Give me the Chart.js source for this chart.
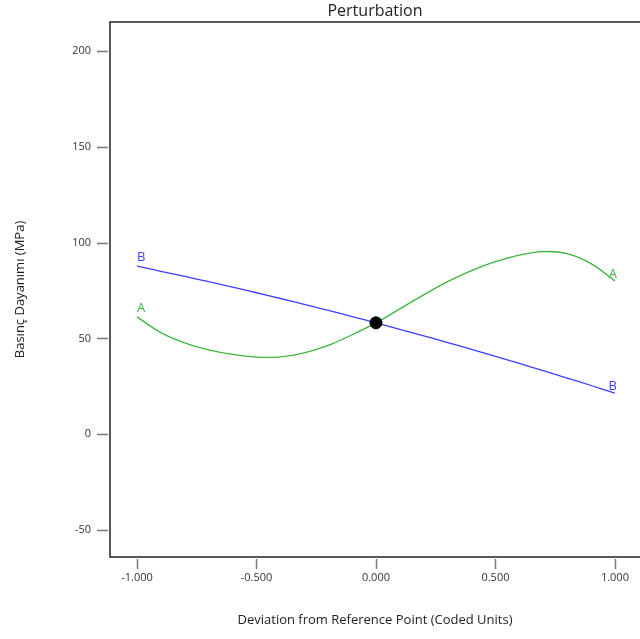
<!DOCTYPE html>
<html>
<head>
<meta charset="utf-8">
<script src="https://cdn.jsdelivr.net/npm/chart.js@4"></script>
<style>
  html, body { margin: 0; padding: 0; background: #fff; overflow: hidden; }
</style>
</head>
<body>
<canvas id="grafico" width="640" height="639"></canvas>
<script>
// valores
const desvios = [-1.0, -0.9, -0.8, -0.7, -0.6, -0.5, -0.4, -0.3, -0.2, -0.1, 0.0,
                 0.1, 0.2, 0.3, 0.4, 0.5, 0.6, 0.7, 0.8, 0.9, 1.0]
const serieA = [61.2, 53.0, 47.6, 44.0, 41.6, 40.2, 40.3, 42.4, 46.3, 51.9, 58.1,
                65.4, 72.7, 79.6, 85.4, 90.0, 93.4, 95.3, 94.2, 89.0, 80.0]
const serieB = [87.7, 85.0, 82.3, 79.6, 76.7, 73.8, 70.8, 67.7, 64.6, 61.4, 58.1,
                54.7, 51.3, 47.8, 44.3, 40.6, 36.9, 33.1, 29.3, 25.4, 21.4]
const pontoRef = [{x: 0.0, y: 58.1}]
const ticksX = [-1.0, -0.5, 0.0, 0.5, 1.0]
const ticksY = [-50, 0, 50, 100, 150, 200]

const fonte = '"Open Sans", "Noto Sans", sans-serif'
const verde = '#3db53d'
const azul = '#3f3fff'

/** Desenha eixos, marcas, titulos e as letras das curvas */
const extras = {
    id: 'extras',
    afterDraw(chart) {
        const ctx = chart.ctx
        const area = chart.chartArea
        const sx = chart.scales.x
        const sy = chart.scales.y
        ctx.save()

        // marcas dos ticks
        ctx.strokeStyle = '#7a7a7a'
        ctx.lineWidth = 1.5
        ticksY.forEach(v => {
            const y = Math.round(sy.getPixelForValue(v)) + 0.5
            ctx.beginPath(); ctx.moveTo(97, y); ctx.lineTo(108, y); ctx.stroke()
        })
        ticksX.forEach(v => {
            const x = Math.round(sx.getPixelForValue(v)) + 0.5
            ctx.beginPath(); ctx.moveTo(x, area.bottom + 2); ctx.lineTo(x, area.bottom + 12); ctx.stroke()
        })

        // moldura
        ctx.strokeStyle = '#222'
        ctx.lineWidth = 1.5
        ctx.beginPath()
        ctx.moveTo(area.right + 2, area.top)
        ctx.lineTo(area.left, area.top)
        ctx.lineTo(area.left, area.bottom)
        ctx.lineTo(area.right + 2, area.bottom)
        ctx.stroke()

        // titulos
        ctx.fillStyle = '#222'
        ctx.textAlign = 'center'
        ctx.textBaseline = 'middle'
        ctx.font = '16px ' + fonte
        ctx.fillText('Perturbation', (area.left + area.right) / 2, 11)
        ctx.font = '13px ' + fonte
        ctx.fillText('Deviation from Reference Point (Coded Units)', (area.left + area.right) / 2, 620)
        ctx.save()
        ctx.translate(20, (area.top + area.bottom) / 2)
        ctx.rotate(-Math.PI / 2)
        ctx.fillText('Basınç Dayanımı (MPa)', 0, 0)
        ctx.restore()

        // letras nas pontas das curvas
        ctx.font = '13px ' + fonte
        ctx.textBaseline = 'alphabetic'
        const letras = [[0, 'A', verde], [1, 'B', azul]]
        letras.forEach(([idx, txt, cor]) => {
            const pts = chart.getDatasetMeta(idx).data
            const ini = pts[0]
            const fim = pts[pts.length - 1]
            ctx.fillStyle = cor
            ctx.textAlign = 'left'
            ctx.fillText(txt, ini.x, ini.y - 5)
            ctx.textAlign = 'right'
            ctx.fillText(txt, fim.x + 2, fim.y - 3)
        })
        ctx.restore()
    }
}

const ctx = document.getElementById('grafico').getContext('2d')
const grafico = new Chart(ctx, {
    type: 'line',
    data: {
        datasets: [
            {
                label: 'A',
                data: desvios.map((d, i) => ({x: d, y: serieA[i]})),
                borderColor: verde,
                borderWidth: 1.3,
                pointRadius: 0,
                tension: 0.4,
                fill: false,
                order: 1
            },
            {
                label: 'B',
                data: desvios.map((d, i) => ({x: d, y: serieB[i]})),
                borderColor: azul,
                borderWidth: 1.3,
                pointRadius: 0,
                tension: 0.4,
                fill: false,
                order: 2
            },
            {
                type: 'scatter',
                label: 'ref',
                data: pontoRef,
                backgroundColor: '#000',
                borderColor: '#000',
                pointRadius: 6,
                pointHoverRadius: 6,
                order: 0
            }
        ]
    },
    options: {
        responsive: false,
        animation: false,
        layout: { autoPadding: false, padding: { top: 22, right: 0, left: 0, bottom: 0 } },
        scales: {
            x: {
                type: 'linear',
                min: -1.113,
                max: 1.105,
                afterBuildTicks: (s) => { s.ticks = ticksX.map(v => ({value: v})) },
                afterFit: (s) => { s.height = 82; s.paddingLeft = 0; s.paddingRight = 0 },
                grid: { display: false, drawTicks: false },
                border: { display: false },
                ticks: {
                    padding: 14,
                    maxRotation: 0,
                    color: '#333',
                    font: { family: fonte, size: 11 },
                    callback: (v) => v.toFixed(3)
                }
            },
            y: {
                min: -64.1,
                max: 215.1,
                afterBuildTicks: (s) => { s.ticks = ticksY.map(v => ({value: v})) },
                afterFit: (s) => { s.width = 110; s.paddingTop = 0; s.paddingBottom = 0 },
                grid: { display: false, drawTicks: false },
                border: { display: false },
                ticks: {
                    padding: 19,
                    color: '#333',
                    font: { family: fonte, size: 11 }
                }
            }
        },
        plugins: {
            legend: { display: false },
            title: { display: false },
            tooltip: { enabled: false }
        }
    },
    plugins: [extras]
})
</script>
</body>
</html>
